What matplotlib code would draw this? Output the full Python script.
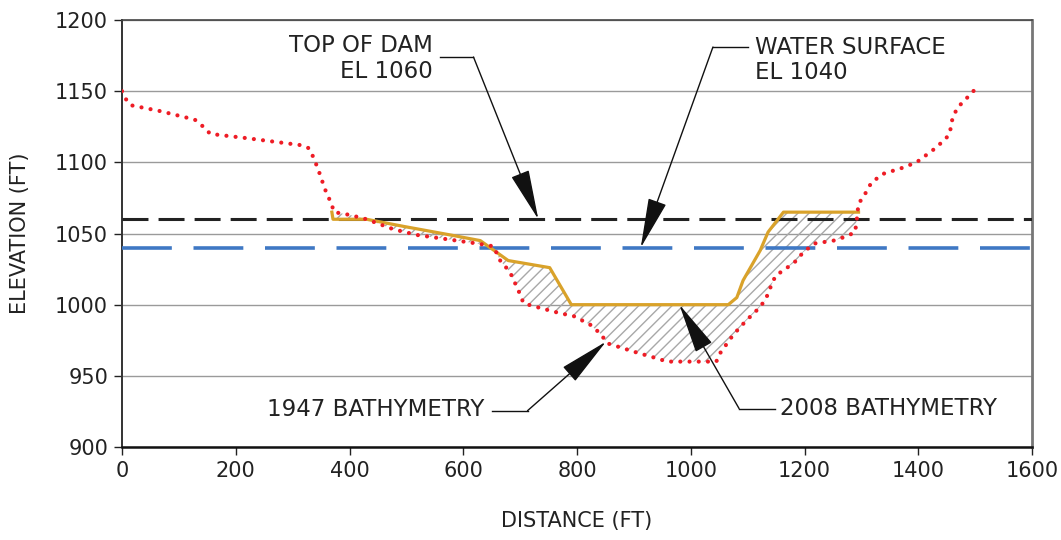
import matplotlib.pyplot as plt
from matplotlib.patches import Polygon

# 1947 bathymetry (dotted red)
x_1947 = [0, 10, 17, 67, 128, 146, 155, 219, 316, 328, 336, 345, 357, 368, 373,
          401, 430, 477, 518, 571, 624, 653, 665, 682, 697, 706, 723, 770, 794,
          823, 843, 852, 876, 908, 943, 958, 1045, 1050, 1075, 1098, 1116, 1131,
          1145, 1151, 1163, 1186, 1198, 1218, 1251, 1274, 1289, 1292, 1293, 1295,
          1304, 1318, 1339, 1371, 1397, 1427, 1447, 1455, 1457, 1459, 1468, 1485,
          1497, 1500]
y_1947 = [1150, 1142, 1140, 1136, 1130, 1124, 1120, 1117, 1112, 1110, 1104, 1095,
          1081, 1071, 1065, 1063, 1060, 1053, 1049, 1046, 1043, 1041, 1031, 1023,
          1010, 1001, 999, 994, 992, 986, 979, 973, 970, 966, 962, 960, 960, 965,
          979, 989, 996, 1003, 1017, 1021, 1024, 1031, 1037, 1043, 1045, 1048,
          1051, 1060, 1064, 1071, 1076, 1086, 1092, 1096, 1100, 1109, 1116, 1120,
          1124, 1129, 1138, 1145, 1150, 1152]

# 2008 bathymetry (solid gold)
x_2008 = [369, 371, 430, 495, 577, 630, 679, 752, 790, 1066, 1081, 1092, 1122,
          1136, 1163, 1295]
y_2008 = [1065, 1060, 1060, 1055, 1049, 1045, 1031, 1026, 1000, 1000, 1005, 1017,
          1038, 1051, 1065, 1065]

top_of_dam = 1060
water_surface = 1040

fig = plt.figure(figsize=(10.61, 5.40), dpi=100)
ax = fig.add_axes([122 / 1061, 1 - 447 / 540, 910 / 1061, 427 / 540])

# hatched area between the two surveys
hx = x_2008 + [x for x in reversed(x_1947) if 373 <= x <= 1292]
hy = y_2008 + [y for x, y in reversed(list(zip(x_1947, y_1947))) if 373 <= x <= 1292]
ax.add_patch(Polygon(list(zip(hx, hy)), closed=True, fill=False, edgecolor='#a8a8a8',
                     linewidth=0, hatch='///', zorder=2))

ax.axhline(top_of_dam, color='#222222', lw=2.2, dashes=(8.5, 3.3), zorder=3)
ax.axhline(water_surface, color='#3f78c4', lw=2.6, dashes=(13.8, 6.0), zorder=3)

ax.plot(x_2008, y_2008, color='#d9a22a', lw=2.3, zorder=4)
ax.plot(x_1947, y_1947, color='#ee1c25', lw=3.0, dashes=(0.01, 2.2),
        dash_capstyle='round', zorder=5)

ax.set_xlim(0, 1600)
ax.set_ylim(900, 1200)
ax.set_xticks(range(0, 1601, 200))
ax.set_yticks(range(900, 1201, 50))
ax.yaxis.grid(True, color='#9a9a9a', lw=1)
ax.set_axisbelow(True)
ax.tick_params(direction='out', length=6, width=1, labelsize=15, colors='#222222', pad=4)

ax.spines['left'].set_color('#333333')
ax.spines['left'].set_linewidth(1.4)
ax.spines['bottom'].set_color('#111111')
ax.spines['bottom'].set_linewidth(1.8)
ax.spines['right'].set_color('#777777')
ax.spines['right'].set_linewidth(2)
ax.spines['top'].set_color('#444444')
ax.spines['top'].set_linewidth(1.2)

ax.set_xlabel('DISTANCE (FT)', fontsize=15, color='#222222', labelpad=22)
ax.set_ylabel('ELEVATION (FT)', fontsize=15, color='#222222', labelpad=18)

arrow = dict(arrowstyle='-|>,head_length=3.2,head_width=0.6', color='#111111',
             lw=1.0, shrinkA=0, shrinkB=0, mutation_scale=10)
fs = 16.5

# labels with leaders: text, horizontal leg, then arrow to the tip
ax.text(547, 1173, 'TOP OF DAM\nEL 1060', ha='right', va='center', fontsize=fs,
        color='#222222', linespacing=1.15)
ax.plot([559, 618], [1174, 1174], color='#111111', lw=1.0)
ax.annotate('', xy=(732, 1060), xytext=(618, 1174), arrowprops=arrow)

ax.text(1113, 1172, 'WATER SURFACE\nEL 1040', ha='left', va='center', fontsize=fs,
        color='#222222', linespacing=1.15)
ax.plot([1101, 1039], [1181, 1181], color='#111111', lw=1.0)
ax.annotate('', xy=(912, 1040), xytext=(1039, 1181), arrowprops=arrow)

ax.text(638, 926, '1947 BATHYMETRY', ha='right', va='center', fontsize=fs,
        color='#222222')
ax.plot([650, 713], [925.5, 925.5], color='#111111', lw=1.0)
ax.annotate('', xy=(851, 974), xytext=(713, 925.5), arrowprops=arrow)

ax.text(1157, 927, '2008 BATHYMETRY', ha='left', va='center', fontsize=fs,
        color='#222222')
ax.plot([1148, 1085], [927, 927], color='#111111', lw=1.0)
ax.annotate('', xy=(980, 1000), xytext=(1085, 927), arrowprops=arrow)

fig.savefig('out.png', dpi=100)
